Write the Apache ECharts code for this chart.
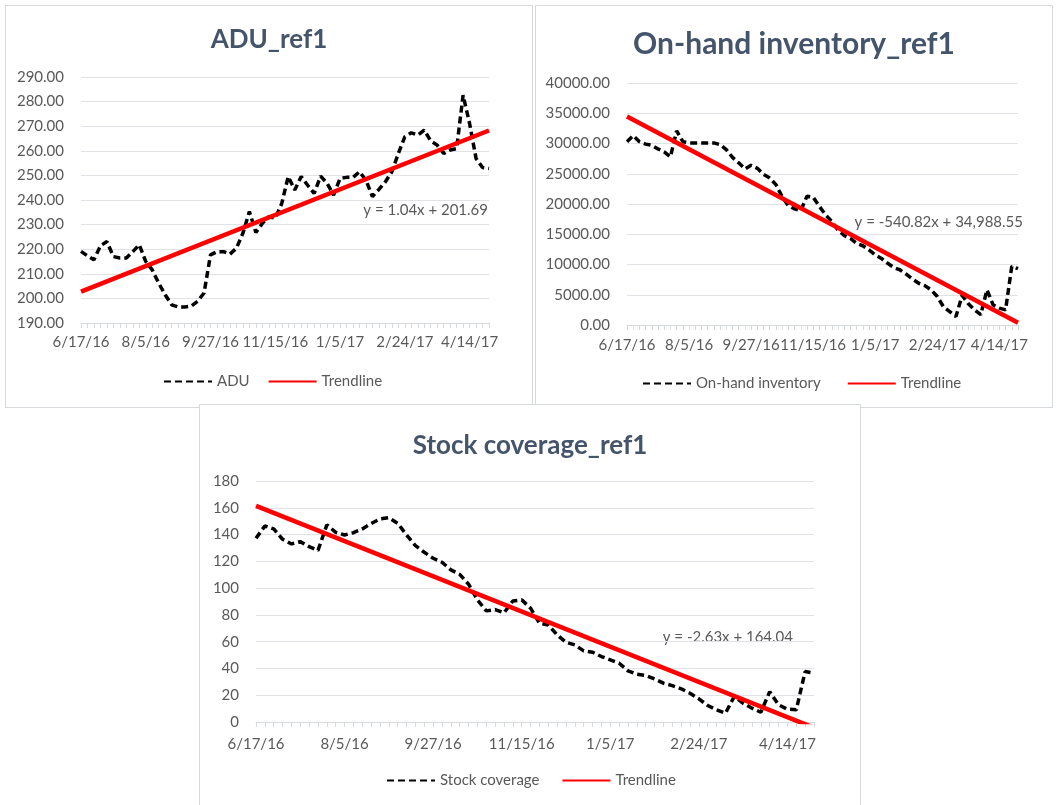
<!DOCTYPE html>
<html><head><meta charset="utf-8">
<script src="https://cdn.jsdelivr.net/npm/echarts@6/dist/echarts.min.js"></script>
<style>
html,body{margin:0;padding:0;background:#fff;width:1057px;height:805px;overflow:hidden;position:relative}
.box{position:absolute;box-sizing:border-box;border:1px solid #d6d9de;background:#fff}
#c1{left:5px;top:5px;width:528px;height:403px}
#c2{left:535px;top:5px;width:518px;height:403px}
#c3{left:199px;top:404px;width:662px;height:410px}
</style></head><body>
<div id="c1" class="box"></div>
<div id="c2" class="box"></div>
<div id="c3" class="box"></div>
<script>
// ---- data ----
const tickLabels = ['6/17/16','8/5/16','9/27/16','11/15/16','1/5/17','2/24/17','4/14/17'];
const labelEvery = 10;

const adu = [219.1, 217.3, 215.7, 221.4, 223.1, 217.0, 216.4, 216.4, 219.0, 221.8,
  215.0, 211.6, 206.2, 201.5, 197.4, 196.5, 196.5, 196.8, 198.8, 202.2,
  217.7, 219.0, 219.0, 218.0, 220.4, 226.5, 235.3, 226.8, 230.5, 233.2,
  232.6, 238.6, 249.5, 244.1, 249.5, 246.0, 242.7, 249.7, 246.8, 242.0,
  248.8, 249.2, 249.2, 251.5, 248.1, 241.4, 244.3, 247.4, 251.5, 258.9,
  265.7, 267.3, 266.4, 268.4, 264.0, 262.3, 258.9, 260.3, 260.9, 282.6,
  271.1, 256.9, 253.2, 252.8];

const inventory = [30300, 31300, 30300, 29900, 29700, 29100, 28600, 27800, 32100, 30300,
  30100, 30100, 30100, 30100, 30100, 29800, 29000, 27700, 26800, 25800,
  26400, 25900, 24900, 24300, 23200, 21200, 19700, 19200, 18900, 21300,
  21100, 19600, 18200, 17100, 15700, 14800, 14300, 13500, 13100, 12400,
  11600, 11000, 10200, 9500, 9100, 8400, 7600, 6900, 6500, 5800,
  4700, 3000, 2200, 1400, 4900, 3500, 2500, 1700, 5800, 3300,
  2800, 2500, 9700, 9300];

const stockCoverage = [137.2, 146.4, 144.2, 136.5, 133.0, 134.7, 131.0, 128.2, 147.2, 141.7,
  139.7, 141.4, 144.2, 148.2, 151.6, 152.6, 148.4, 139.7, 131.7, 126.8,
  122.3, 119.3, 113.6, 110.3, 102.9, 91.2, 83.0, 84.0, 81.5, 90.4,
  91.2, 85.0, 73.8, 72.5, 65.0, 59.6, 57.6, 53.1, 52.1, 48.9,
  46.4, 43.9, 38.2, 35.7, 34.7, 32.2, 29.0, 27.2, 24.8, 21.5,
  17.3, 12.3, 9.1, 6.6, 19.0, 14.0, 10.3, 7.3, 22.7, 12.8,
  9.6, 9.1, 37.7, 36.5];

// trendline equations shown on the charts: [slope, intercept]
const aduTrend = [1.04, 201.69];
const invTrend = [-540.82, 34988.55];
const stockTrend = [-2.63, 164.04];

const categories = adu.map((_, i) => String(i + 1));

// ---- chart builder ----
const FONT = 'Lato, Carlito, "Open Sans", sans-serif';
const TXT = '#595959';
const GRID = '#dfe2e7';

function trendData(tr, n) {
  return [[0, tr[1] + tr[0] * 1], [n - 1, tr[1] + tr[0] * n]];
}

function build(el, cfg) {
  const chart = echarts.init(document.getElementById(el), null, {renderer: 'canvas'});
  chart.setOption({
    animation: false,
    backgroundColor: '#fff',
    title: {
      text: cfg.title, left: 'center', top: cfg.titleTop,
      textStyle: {fontFamily: FONT, fontWeight: 'bold', fontSize: cfg.titleSize, color: '#44546a'}
    },
    legend: {
      left: cfg.legendLeft, top: cfg.legendTop, itemWidth: 48, itemHeight: 14, itemGap: cfg.legendGap,
      itemStyle: {opacity: 0},
      textStyle: {fontFamily: FONT, fontSize: 15, color: TXT},
      data: [cfg.name, 'Trendline']
    },
    grid: cfg.grid,
    xAxis: {
      type: 'category', data: categories, boundaryGap: false,
      axisLine: {lineStyle: {color: '#d6d9de', width: 1}},
      axisTick: {show: true, interval: 0, length: 5, lineStyle: {color: '#d6d9de'}},
      axisLabel: {
        interval: labelEvery - 1, margin: cfg.xMargin,
        fontFamily: FONT, fontSize: 15, color: TXT,
        formatter: (v, i) => (i % labelEvery === 0 ? tickLabels[i / labelEvery] : '')
      },
      splitLine: {show: false}
    },
    yAxis: {
      type: 'value', min: cfg.min, max: cfg.max, interval: cfg.interval,
      axisLine: {show: false}, axisTick: {show: false},
      axisLabel: {margin: 17, fontFamily: FONT, fontSize: 15, color: TXT,
        formatter: v => cfg.decimals ? v.toFixed(2) : String(v)},
      splitLine: {lineStyle: {color: GRID, width: 1}}
    },
    graphic: [{
      type: 'text', right: cfg.eqRight, top: cfg.eqTop,
      style: {text: cfg.eq, fontFamily: FONT, fontSize: 15, fill: TXT}
    }],
    series: [
      {
        name: cfg.name, type: 'line', data: cfg.data, symbol: 'none',
        lineStyle: {color: '#000', width: 3.5, type: [7, 4]}, itemStyle: {color: '#000'}, z: 3
      },
      {
        name: 'Trendline', type: 'line', data: trendData(cfg.trend, cfg.data.length), symbol: 'none',
        lineStyle: {color: '#ff0000', width: 4.5}, itemStyle: {color: '#ff0000'}, z: 4
      }
    ]
  });
}

build('c1', {
  title: 'ADU_ref1', titleTop: 16, titleSize: 26,
  name: 'ADU', data: adu, trend: aduTrend,
  eq: 'y = 1.04x + 201.69', eqRight: 44, eqTop: 197,
  grid: {left: 75, right: 43, top: 71, bottom: 84},
  min: 190, max: 290, interval: 10, decimals: true, xMargin: 12,
  legendLeft: 152, legendTop: 363, legendGap: 18
});
build('c2', {
  title: 'On-hand inventory_ref1', titleTop: 18, titleSize: 30,
  name: 'On-hand inventory', data: inventory, trend: invTrend,
  eq: 'y = -540.82x + 34,988.55', eqRight: 29, eqTop: 209,
  grid: {left: 91, right: 34, top: 77, bottom: 82},
  min: 0, max: 40000, interval: 5000, decimals: true, xMargin: 13,
  legendLeft: 101, legendTop: 365, legendGap: 26
});
build('c3', {
  title: 'Stock coverage_ref1', titleTop: 23, titleSize: 26,
  name: 'Stock coverage', data: stockCoverage, trend: stockTrend,
  eq: 'y = -2.63x + 164.04', eqRight: 67, eqTop: 225,
  grid: {left: 56, right: 46, top: 76, bottom: 91},
  min: 0, max: 180, interval: 20, decimals: false, xMargin: 15,
  legendLeft: 181, legendTop: 363, legendGap: 22
});
</script>
</body></html>
